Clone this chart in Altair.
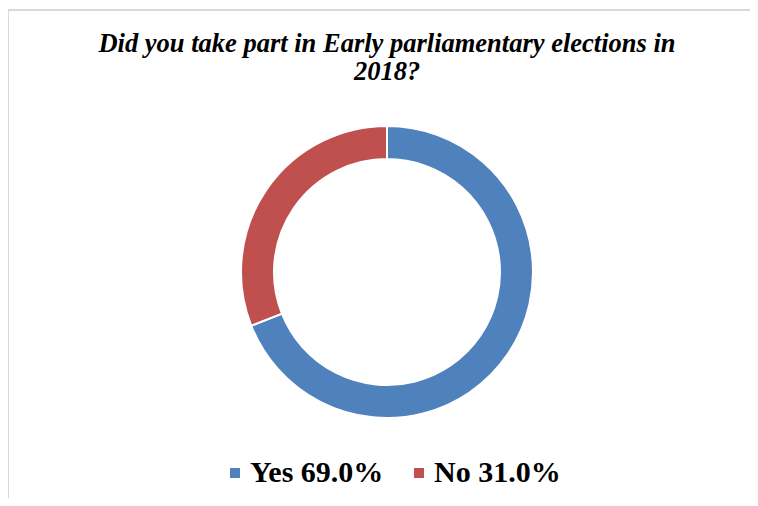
import altair as alt
import pandas as pd

categories = ["Yes", "No"]
shares = [69.0, 31.0]
colors = ["#4F81BD", "#C0504D"]
title_lines = ["Did you take part in Early parliamentary elections in", "2018?"]

labels = [f"{c} {v:.1f}%" for c, v in zip(categories, shares)]
df = pd.DataFrame({"label": labels, "share": shares, "order": list(range(len(labels)))})
one = pd.DataFrame({"a": [0]})

W, H = 742, 490
CX, CY = 379, 264

donut = alt.Chart(df).mark_arc(
    outerRadius=146, innerRadius=113, stroke="white", strokeWidth=2
).encode(
    theta=alt.Theta("share:Q", stack=True),
    order=alt.Order("order:Q"),
    color=alt.Color(
        "label:N",
        scale=alt.Scale(domain=labels, range=colors),
        legend=alt.Legend(
            title=None, orient="none", legendX=212, legendY=450,
            direction="horizontal", symbolType="square", symbolSize=100,
            symbolStrokeWidth=0, labelFont="Liberation Serif",
            labelFontWeight="bold", labelFontSize=30, labelColor="black",
            labelOffset=0, columnPadding=20, labelLimit=0,
        ),
    ),
    x=alt.value(CX),
    y=alt.value(CY),
)

title_text = alt.Chart(one).mark_text(
    text=title_lines, font="Liberation Serif", fontStyle="italic",
    fontWeight="bold", fontSize=26.5, lineHeight=28, align="center",
    baseline="alphabetic", color="black",
).encode(x=alt.value(CX), y=alt.value(44))

frame_top = alt.Chart(one).mark_rule(color="#d9d9d9", strokeWidth=2).encode(
    x=alt.value(0), x2=alt.value(W), y=alt.value(2)
)
frame_left = alt.Chart(one).mark_rule(color="#d9d9d9", strokeWidth=2).encode(
    x=alt.value(0), y=alt.value(2), y2=alt.value(H)
)

chart = alt.layer(frame_top, frame_left, donut, title_text).properties(
    width=W, height=H, autosize="none", padding=0
).configure_view(stroke=None)

chart.save("out.html", embed_options={"renderer": "svg", "actions": False})
